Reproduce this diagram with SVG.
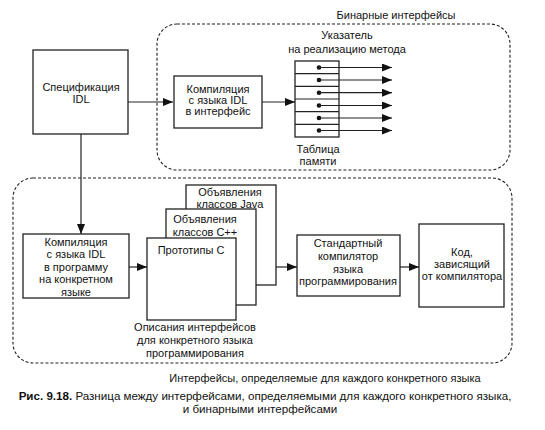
<svg xmlns="http://www.w3.org/2000/svg" width="545" height="430" viewBox="0 0 545 430">
<style>
.box{fill:#fff;stroke:#222;stroke-width:1.3}
.grp{fill:none;stroke:#222;stroke-width:1.1;stroke-dasharray:3 2}
.ln{fill:none;stroke:#222;stroke-width:1.2}
text{font-family:"Liberation Sans",Arial,sans-serif;font-size:11px;fill:#111;text-anchor:middle}
.cap{font-size:11.6px}
.b{font-weight:bold}
</style>
<defs>
<marker id="ah" viewBox="0 0 10 8" refX="10" refY="4" markerWidth="10" markerHeight="8" markerUnits="userSpaceOnUse" orient="auto">
<path d="M0,0 L10,4 L0,8 Z" fill="#111"/>
</marker>
</defs>
<g id="groups">
<rect id="binary-group" class="grp" x="157" y="24" width="353" height="146" rx="20"/>
<rect id="lang-group" class="grp" x="13" y="178" width="499" height="185" rx="20"/>
<text x="396" y="19">Бинарные интерфейсы</text>
<text x="325" y="382">Интерфейсы, определяемые для каждого конкретного языка</text>
</g>
<g id="connectors">
<line class="ln" x1="128" y1="102" x2="173" y2="102" marker-end="url(#ah)"/>
<line class="ln" x1="262" y1="102" x2="295" y2="102" marker-end="url(#ah)"/>
<line class="ln" x1="81" y1="134" x2="81" y2="234" marker-end="url(#ah)"/>
<line class="ln" x1="129" y1="267" x2="147" y2="267" marker-end="url(#ah)"/>
<line class="ln" x1="276" y1="267" x2="297" y2="267" marker-end="url(#ah)"/>
<line class="ln" x1="400" y1="267" x2="419" y2="267" marker-end="url(#ah)"/>
</g>
<g id="spec">
<rect class="box" x="33" y="50" width="95" height="84"/>
<text x="81" y="91">Спецификация</text>
<text x="81" y="103">IDL</text>
</g>
<g id="compile-binary">
<rect class="box" x="174" y="76" width="88" height="52"/>
<text x="218" y="93">Компиляция</text>
<text x="218" y="104">с языка IDL</text>
<text x="218" y="115">в интерфейс</text>
</g>
<g id="memory-table">
<text x="347" y="39">Указатель</text>
<text x="347" y="53">на реализацию метода</text>
<rect class="box" x="295" y="61" width="44" height="76"/>
<path class="ln" d="M295,73.7H339M295,86.3H339M295,99H339M295,111.7H339M295,124.3H339"/>
<g fill="#111">
<circle cx="319" cy="67.5" r="2.3"/>
<circle cx="319" cy="80" r="2.3"/>
<circle cx="319" cy="92.7" r="2.3"/>
<circle cx="319" cy="105.5" r="2.3"/>
<circle cx="319" cy="118" r="2.3"/>
<circle cx="319" cy="130.5" r="2.3"/>
</g>
<g>
<line class="ln" x1="319" y1="67.5" x2="392" y2="67.5" marker-end="url(#ah)"/>
<line class="ln" x1="319" y1="80" x2="392" y2="80" marker-end="url(#ah)"/>
<line class="ln" x1="319" y1="92.7" x2="392" y2="92.7" marker-end="url(#ah)"/>
<line class="ln" x1="319" y1="105.5" x2="392" y2="105.5" marker-end="url(#ah)"/>
<line class="ln" x1="319" y1="118" x2="392" y2="118" marker-end="url(#ah)"/>
<line class="ln" x1="319" y1="130.5" x2="392" y2="130.5" marker-end="url(#ah)"/>
</g>
<text x="318" y="153">Таблица</text>
<text x="318" y="165">памяти</text>
</g>
<g id="compile-lang">
<rect class="box" x="23" y="234" width="106" height="64"/>
<text x="76" y="246">Компиляция</text>
<text x="76" y="258">с языка IDL</text>
<text x="76" y="271">в программу</text>
<text x="76" y="283">на конкретном</text>
<text x="76" y="296">языке</text>
</g>
<g id="java-decl">
<rect class="box" x="186" y="185" width="90" height="100"/>
<text x="230" y="196">Объявления</text>
<text x="230" y="208">классов Java</text>
</g>
<g id="cpp-decl">
<rect class="box" x="166" y="209" width="90" height="96"/>
<text x="205" y="223">Объявления</text>
<text x="205" y="236">классов C++</text>
</g>
<g id="c-proto">
<rect class="box" x="147" y="238" width="89" height="82"/>
<text x="191" y="254">Прототипы C</text>
</g>
<g id="descr-label">
<text x="195" y="331">Описания интерфейсов</text>
<text x="195" y="344">для конкретного языка</text>
<text x="195" y="357">программирования</text>
</g>
<g id="std-compiler">
<rect class="box" x="297" y="235" width="103" height="61"/>
<text x="348" y="247">Стандартный</text>
<text x="348" y="260">компилятор</text>
<text x="348" y="273">языка</text>
<text x="348" y="285">программирования</text>
</g>
<g id="code">
<rect class="box" x="419" y="224" width="85" height="83"/>
<text x="462" y="256">Код,</text>
<text x="462" y="268">зависящий</text>
<text x="462" y="280">от компилятора</text>
</g>
<g id="caption">
<text class="cap" x="265" y="400"><tspan class="b">Рис. 9.18.</tspan> Разница между интерфейсами, определяемыми для каждого конкретного языка,</text>
<text class="cap" x="260" y="413">и бинарными интерфейсами</text>
</g>
</svg>
